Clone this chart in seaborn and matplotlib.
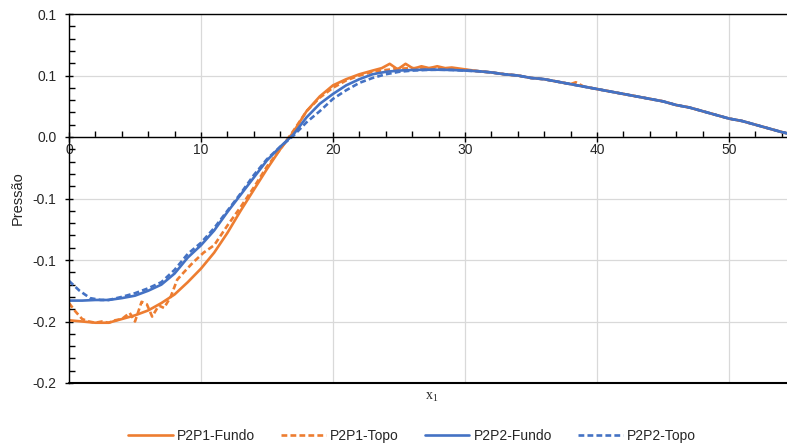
import numpy as np
import pandas as pd
import matplotlib
matplotlib.use("Agg")
import matplotlib.pyplot as plt
from matplotlib.lines import Line2D
from matplotlib.ticker import MultipleLocator, FixedLocator, FixedFormatter
import seaborn as sns

# values
x_p2p1_fundo = [0, 1, 2, 3, 4, 5, 6, 7, 8, 9, 10, 11, 12, 13, 14, 15, 16, 17, 18, 19,
                20, 21, 22, 23, 23.7, 24.3, 24.9, 25.5, 26.1, 26.7, 27.3, 27.9, 28.5, 29,
                30, 31, 32, 33, 34, 35, 36, 37, 38, 39, 40, 41, 42, 43, 44, 45, 46, 47,
                48, 49, 50, 51, 52, 53, 54, 54.4]
p2p1_fundo = [-0.149, -0.150, -0.151, -0.151, -0.148, -0.145, -0.141, -0.135, -0.128,
              -0.118, -0.107, -0.094, -0.078, -0.060, -0.043, -0.026, -0.010, 0.004,
              0.021, 0.033, 0.042, 0.047, 0.051, 0.054, 0.056, 0.0595, 0.055, 0.0595,
              0.0555, 0.0575, 0.056, 0.0575, 0.056, 0.0565, 0.055, 0.0535, 0.0525, 0.051,
              0.050, 0.048, 0.047, 0.045, 0.043, 0.041, 0.039, 0.037, 0.035, 0.033,
              0.031, 0.029, 0.026, 0.024, 0.021, 0.018, 0.015, 0.013, 0.010, 0.007,
              0.004, 0.003]

x_p2p1_topo = [0, 0.5, 1, 1.5, 2, 2.5, 3, 3.5, 4, 4.6, 5.0, 5.5, 5.9, 6.3, 6.8, 7.2,
               7.7, 8.2, 8.7, 9.4, 10.2, 11, 12, 13, 14, 15, 16, 17, 18, 19, 20, 21,
               22, 23, 24, 25, 26, 27, 28, 29, 30, 31, 32, 33, 34, 35, 36, 37, 38, 38.4,
               39, 40, 41, 42, 43, 44, 45, 46, 47, 48, 49, 50, 51, 52, 53, 54, 54.4]
p2p1_topo = [-0.135, -0.142, -0.148, -0.150, -0.151, -0.150, -0.151, -0.149, -0.148,
             -0.143, -0.150, -0.134, -0.136, -0.146, -0.137, -0.139, -0.130, -0.116,
             -0.110, -0.102, -0.094, -0.088, -0.072, -0.057, -0.041, -0.024, -0.010,
             0.005, 0.021, 0.032, 0.040, 0.046, 0.050, 0.053, 0.0545, 0.0555, 0.056,
             0.056, 0.056, 0.055, 0.0545, 0.0535, 0.0525, 0.051, 0.050, 0.048, 0.047,
             0.045, 0.043, 0.0445, 0.041, 0.039, 0.037, 0.035, 0.033, 0.031, 0.029,
             0.026, 0.024, 0.021, 0.018, 0.015, 0.013, 0.010, 0.007, 0.004, 0.003]

x_p2p2_fundo = [0, 1, 2, 3, 4, 5, 6, 7, 8, 9, 10, 11, 12, 13, 14, 15, 16, 17, 18, 19,
                20, 21, 22, 23, 24, 25, 26, 27, 28, 29, 30, 31, 32, 33, 34, 35, 36, 37,
                38, 39, 40, 41, 42, 43, 44, 45, 46, 47, 48, 49, 50, 51, 52, 53, 54, 54.4]
p2p2_fundo = [-0.133, -0.133, -0.1325, -0.1325, -0.131, -0.129, -0.125, -0.120, -0.111,
              -0.098, -0.088, -0.076, -0.061, -0.047, -0.033, -0.019, -0.008, 0.002,
              0.016, 0.027, 0.035, 0.042, 0.047, 0.051, 0.053, 0.054, 0.0545, 0.0547,
              0.0547, 0.0545, 0.054, 0.0535, 0.0525, 0.051, 0.050, 0.048, 0.047, 0.045,
              0.043, 0.041, 0.039, 0.037, 0.035, 0.033, 0.031, 0.029, 0.026, 0.024,
              0.021, 0.018, 0.015, 0.013, 0.010, 0.007, 0.004, 0.003]

x_p2p2_topo = [0, 0.8, 1.6, 2.4, 3, 4, 5, 6, 7, 8, 9, 10, 11, 12, 13, 14, 15, 16, 17,
               18, 19, 20, 21, 22, 23, 24, 25, 26, 27, 28, 29, 30, 31, 32, 33, 34, 35,
               36, 37, 38, 39, 40, 41, 42, 43, 44, 45, 46, 47, 48, 49, 50, 51, 52, 53,
               54, 54.4]
p2p2_topo = [-0.117, -0.125, -0.131, -0.1325, -0.1325, -0.130, -0.127, -0.123, -0.118,
             -0.108, -0.095, -0.086, -0.074, -0.060, -0.046, -0.031, -0.018, -0.008,
             0.001, 0.012, 0.021, 0.031, 0.038, 0.044, 0.048, 0.051, 0.053, 0.054,
             0.0545, 0.0547, 0.0545, 0.054, 0.0535, 0.0525, 0.051, 0.050, 0.048, 0.047,
             0.045, 0.043, 0.041, 0.039, 0.037, 0.035, 0.033, 0.031, 0.029, 0.026,
             0.024, 0.021, 0.018, 0.015, 0.013, 0.010, 0.007, 0.004, 0.003]

series_names = ["P2P1-Fundo", "P2P1-Topo", "P2P2-Fundo", "P2P2-Topo"]
yticks = [-0.2, -0.15, -0.1, -0.05, 0.0, 0.05, 0.1]
ytick_labels = ["-0.2", "-0.2", "-0.1", "-0.1", "0.0", "0.1", "0.1"]
xticks = [0, 10, 20, 30, 40, 50]

frames = []
for name, xs, ys in zip(series_names,
                        [x_p2p1_fundo, x_p2p1_topo, x_p2p2_fundo, x_p2p2_topo],
                        [p2p1_fundo, p2p1_topo, p2p2_fundo, p2p2_topo]):
    frames.append(pd.DataFrame({"x": xs, "p": ys, "serie": name}))
df = pd.concat(frames, ignore_index=True)

orange = "#ED7D31"
blue = "#4472C4"
palette = {"P2P1-Fundo": orange, "P2P1-Topo": orange,
           "P2P2-Fundo": blue, "P2P2-Topo": blue}
dash_map = {"P2P1-Fundo": "", "P2P1-Topo": (2.2, 1.2),
            "P2P2-Fundo": "", "P2P2-Topo": (2.2, 1.2)}

sns.set_theme(style="white")
plt.rcParams["font.family"] = ["Liberation Sans", "DejaVu Sans"]

fig = plt.figure(figsize=(7.87, 4.45), dpi=100)
ax = fig.add_axes([69 / 787, 1 - 383 / 445, 1 - 69 / 787, (383 - 14) / 445])

sns.lineplot(data=df, x="x", y="p", hue="serie", style="serie",
             hue_order=series_names, style_order=series_names,
             palette=palette, dashes=dash_map, estimator=None, sort=False,
             linewidth=1.9, legend=False, ax=ax)

ax.set_xlim(0, 54.4)
ax.set_ylim(-0.2, 0.1)

ax.yaxis.set_major_locator(FixedLocator(yticks))
ax.yaxis.set_major_formatter(FixedFormatter(ytick_labels))
ax.yaxis.set_minor_locator(MultipleLocator(0.01))
ax.xaxis.set_major_locator(FixedLocator(xticks))
ax.xaxis.set_minor_locator(MultipleLocator(2))

ax.grid(True, which="major", color="#d9d9d9", linewidth=0.9)
ax.set_axisbelow(True)

for s in ["left", "top", "bottom"]:
    ax.spines[s].set_color("black")
    ax.spines[s].set_linewidth(1.0)
ax.spines["right"].set_visible(False)
ax.spines["bottom"].set_position(("data", 0))
# bottom border of plot area
ax.plot([0, 1], [0, 0], transform=ax.transAxes, color="black", lw=1.5, clip_on=False)

ax.tick_params(axis="y", which="major", direction="inout", length=6, width=1,
               color="black", labelsize=10, pad=6, left=True)
ax.tick_params(axis="y", which="minor", direction="in", length=4, width=1,
               color="black", left=True)
ax.tick_params(axis="x", which="major", direction="inout", length=7, width=1,
               color="black", labelsize=10, pad=1, bottom=True)
ax.tick_params(axis="x", which="minor", direction="in", length=4, width=1,
               color="black", bottom=True)
for lab in ax.get_xticklabels() + ax.get_yticklabels():
    lab.set_color("#262626")

ax.set_ylabel("Pressão", fontsize=10.5, color="#262626")
ax.yaxis.set_label_coords(-0.061, 0.50)
ax.set_xlabel(r"$\mathregular{x_1}$", family="Liberation Serif", fontsize=10,
              color="#262626")
ax.xaxis.set_label_coords(0.505, -0.022)

handles = [Line2D([], [], color=palette[n], lw=1.9,
                  linestyle="-" if dash_map[n] == "" else (0, dash_map[n]))
           for n in series_names]
fig.legend(handles, series_names, loc="center", ncol=4, frameon=False,
           bbox_to_anchor=(412 / 787, 1 - 436 / 445), fontsize=10,
           handlelength=3.2, handletextpad=0.3, columnspacing=1.9,
           labelcolor="#262626")

fig.savefig("out.png", dpi=100)
